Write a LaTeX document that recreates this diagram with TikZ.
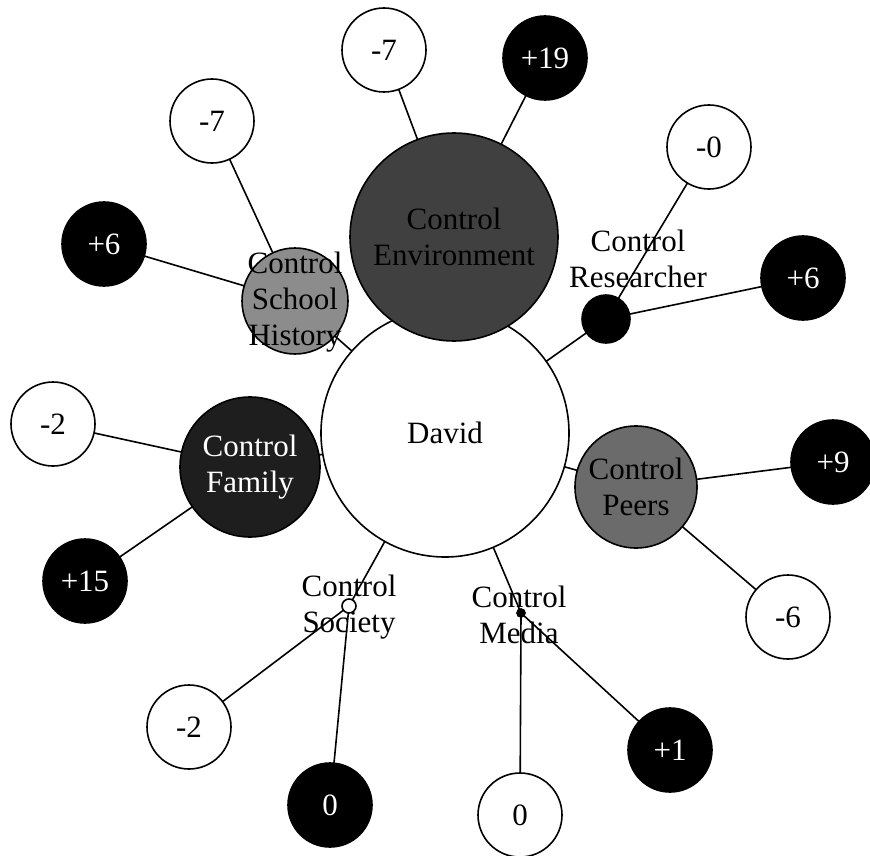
\documentclass[tikz,border=0pt]{standalone}
\usepackage{fontspec}
\setmainfont{Liberation Serif}
\pgfdeclarelayer{edges}
\pgfsetlayers{edges,main}
\begin{document}
\begin{tikzpicture}[x=1pt,y=-1pt,
  every node/.style={circle,draw=black,line width=1.6pt,inner sep=0pt,align=center,
    font=\fontsize{31}{36}\selectfont},
  hub/.style={minimum size=248pt,fill=white},
  ctl/.style={minimum size=#1},
  lbl/.style={draw=none,fill=none,minimum size=0pt},
  negscore/.style={minimum size=84pt,fill=white},
  posscore/.style={minimum size=84pt,fill=black,text=white},
  link/.style={line width=1.6pt}]
\useasboundingbox (0,0) rectangle (870,856);

% centre and group nodes
\node[hub] (david) at (445,433) {David};
\node[ctl=208pt,fill={rgb,255:red,64;green,64;blue,64}] (env) at (454,237) {Control\\Environment};
\node[ctl=106pt,fill={rgb,255:red,140;green,140;blue,140}] (school) at (295,301) {};
\node[lbl] (schoollbl) at (295,302) {Control\\School\\History};
\node[ctl=140pt,fill={rgb,255:red,30;green,30;blue,30},text=white] (family) at (250,467) {Control\\Family};
\node[ctl=122pt,fill={rgb,255:red,107;green,107;blue,107}] (peers) at (636,487) {Control\\Peers};
\node[ctl=48pt,fill=black] (research) at (606,319) {};
\node[lbl] (researchlbl) at (638,259) {Control\\Researcher};
\node[ctl=14pt,fill=white] (society) at (349,606) {};
\node[lbl] (societylbl) at (349,607) {Control\\Society};
\node[ctl=8pt,fill=black] (media) at (521,613) {};
\node[lbl] (medialbl) at (519,615) {Control\\Media};

% score nodes
\node[negscore] (envA) at (384,50) {-7};
\node[posscore] (envB) at (545,58) {+19};
\node[negscore] (schA) at (212,121) {-7};
\node[posscore] (schB) at (104,244) {+6};
\node[negscore] (resA) at (709,147) {-0};
\node[posscore] (resB) at (803,278) {+6};
\node[negscore] (famA) at (53,424) {-2};
\node[posscore] (famB) at (85,581) {+15};
\node[posscore] (peeA) at (833,462) {+9};
\node[negscore] (peeB) at (788,617) {-6};
\node[negscore] (socA) at (189,727) {-2};
\node[posscore] (socB) at (330,805) {0};
\node[negscore] (medA) at (520,815) {0};
\node[posscore] (medB) at (670,750) {+1};

% connectors, kept underneath the circles
\begin{pgfonlayer}{edges}
\foreach \a/\b in {david/env,david/school,david/family,david/peers,david/research,
  david/society,david/media,env/envA,env/envB,school/schA,school/schB,
  research/resA,research/resB,family/famA,family/famB,peers/peeA,peers/peeB,
  society/socA,society/socB,media/medA,media/medB}
  \draw[link] (\a.center) -- (\b.center);
\end{pgfonlayer}
\end{tikzpicture}
\end{document}
